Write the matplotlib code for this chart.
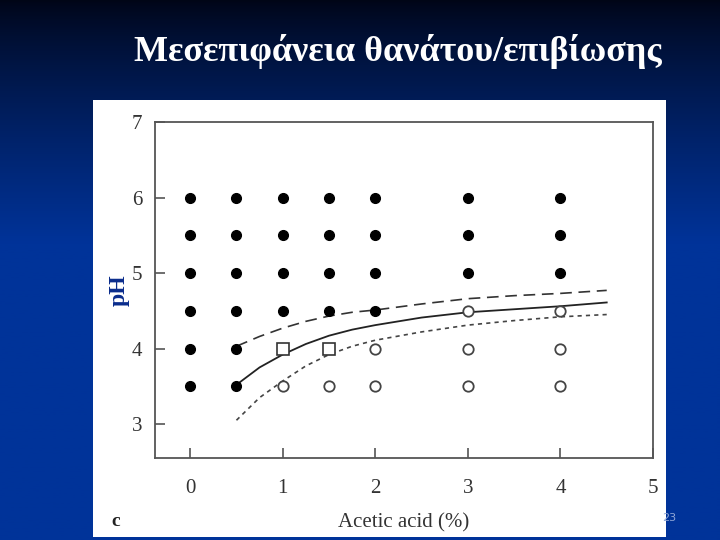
import numpy as np
import matplotlib.pyplot as plt
from matplotlib.patches import Rectangle

# death / survival grid (acetic acid %, pH)
dead_x = [0, 0, 0, 0, 0, 0,
          0.5, 0.5, 0.5, 0.5, 0.5, 0.5,
          1, 1, 1, 1,
          1.5, 1.5, 1.5, 1.5,
          2, 2, 2, 2,
          3, 3, 3,
          4, 4, 4]
dead_y = [3.5, 4, 4.5, 5, 5.5, 6,
          3.5, 4, 4.5, 5, 5.5, 6,
          4.5, 5, 5.5, 6,
          4.5, 5, 5.5, 6,
          4.5, 5, 5.5, 6,
          5, 5.5, 6,
          5, 5.5, 6]
square_x = [1, 1.5]
square_y = [4, 4]
alive_x = [1, 1.5, 2, 2, 3, 3, 3, 4, 4, 4]
alive_y = [3.5, 3.5, 3.5, 4, 3.5, 4, 4.5, 3.5, 4, 4.5]

# boundary curves
curve_x = [0.5, 0.75, 1, 1.25, 1.5, 1.75, 2, 2.5, 3, 3.5, 4, 4.5]
mid_y = [3.52, 3.75, 3.92, 4.06, 4.17, 4.25, 4.31, 4.41, 4.48, 4.52, 4.56, 4.61]
upper_y = [4.03, 4.16, 4.27, 4.36, 4.43, 4.48, 4.51, 4.59, 4.66, 4.70, 4.73, 4.77]
lower_y = [3.05, 3.35, 3.57, 3.77, 3.92, 4.03, 4.11, 4.22, 4.31, 4.37, 4.42, 4.45]

xticks = [0, 1, 2, 3, 4, 5]
yticks = [3, 4, 5, 6, 7]

serif = ['Liberation Serif', 'DejaVu Serif']

fig = plt.figure(figsize=(7.2, 5.4), dpi=100)

# slide background gradient
bg = fig.add_axes([0, 0, 1, 1])
bg.set_axis_off()
t = np.linspace(0, 1, 256)
top = np.array([0.0, 0.02, 0.09])
bot = np.array([0.0, 0.20, 0.60])
w = np.clip(t / 0.45, 0, 1) ** 0.8
grad = top[None, :] * (1 - w[:, None]) + bot[None, :] * w[:, None]
bg.imshow(grad[:, None, :], aspect='auto', extent=[0, 1, 0, 1])
bg.set_xlim(0, 1)
bg.set_ylim(0, 1)
bg.add_patch(Rectangle((93 / 720, 3 / 540), 573 / 720, 437 / 540,
                       facecolor='white', edgecolor='none'))

fig.text(0.553, 0.905, 'Μεσεπιφάνεια θανάτου/επιβίωσης', color='white',
         fontsize=26, family=serif, fontweight='bold', ha='center', va='center')
fig.text(0.165, 0.463, 'pH', color='#0a2c8c', fontsize=17, family=serif,
         fontweight='bold', rotation=90, ha='center', va='center')
fig.text(0.16, 0.035, 'c', color='#222222', fontsize=14, family=serif,
         fontweight='bold', ha='center', va='center')
fig.text(0.93, 0.04, '23', color='#8fa6d6', fontsize=8, ha='center', va='center')

ax = fig.add_axes([155 / 720, 1 - 458 / 540, 498 / 720, 336 / 540])
ax.plot(curve_x, upper_y, color='#333333', lw=1.2, dashes=(7, 4))
ax.plot(curve_x, mid_y, color='#222222', lw=1.3)
ax.plot(curve_x, lower_y, color='#444444', lw=1.2, dashes=(2.5, 2.5))
ax.plot(dead_x, dead_y, 'o', color='black', ms=7, ls='none')
ax.plot(square_x, square_y, 's', mfc='white', mec='#333333', mew=1.2,
        ms=8, ls='none')
ax.plot(alive_x, alive_y, 'o', mfc='white', mec='#444444', mew=1.3,
        ms=7.5, ls='none')

ax.set_xlim(-0.38, 5)
ax.set_ylim(2.55, 7.0)
ax.set_xticks(xticks)
ax.set_yticks(yticks)
ax.tick_params(direction='in', length=7, width=1.2, color='#555555',
               labelcolor='#333333', labelsize=15)
ax.tick_params(axis='x', pad=15)
ax.tick_params(axis='y', pad=9)
for lab in ax.get_xticklabels() + ax.get_yticklabels():
    lab.set_family(serif)
for s in ax.spines.values():
    s.set_color('#555555')
    s.set_linewidth(1.3)
ax.set_xlabel('Acetic acid (%)', fontsize=15, family=serif, color='#333333',
              labelpad=11)

fig.savefig('out.png', dpi=100)
